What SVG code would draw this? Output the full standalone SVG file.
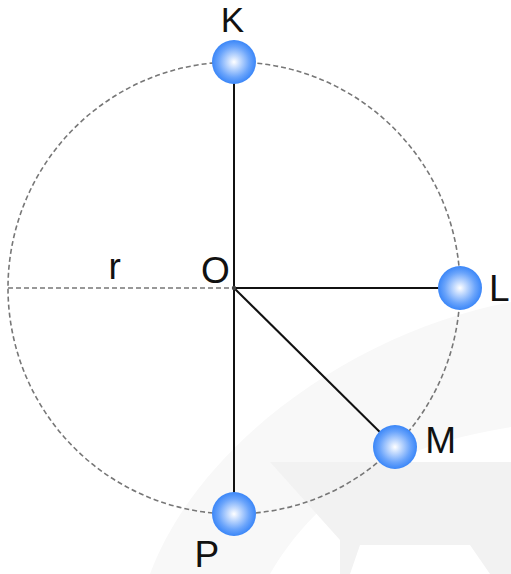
<svg xmlns="http://www.w3.org/2000/svg" width="511" height="574" viewBox="0 0 511 574">
<defs>
<radialGradient id="ball" cx="0.5" cy="0.5" r="0.5">
<stop offset="0" stop-color="#ffffff"/>
<stop offset="0.25" stop-color="#c9defe"/>
<stop offset="0.7" stop-color="#6aa4fb"/>
<stop offset="1" stop-color="#3a86f8"/>
</radialGradient>
<style>
.lbl{font-family:"Liberation Sans",Arial,sans-serif;font-size:37px;fill:#111}
.solid{stroke:#111;stroke-width:2;fill:none}
.dash{stroke:#777;stroke-width:1.6;stroke-dasharray:5 3;fill:none}
.ball{fill:url(#ball)}
</style>
</defs>
<rect width="511" height="574" fill="#ffffff"/>
<g id="watermark">
<path d="M150,574 C200,440 360,330 511,302 L511,427 C430,440 330,470 270,574 Z" fill="#f8f8f8"/>
<path d="M270,462 L511,462 L511,574 L490,574 L470,545 L360,545 L350,574 L340,574 L340,540 Z" fill="#f2f2f2"/>
</g>
<g id="connectors">
<circle cx="234" cy="288" r="226" class="dash"/>
<line x1="8" y1="288" x2="234" y2="288" class="dash"/>
<line x1="234" y1="62" x2="234" y2="514" class="solid"/>
<line x1="234" y1="288" x2="460" y2="288" class="solid"/>
<line x1="234" y1="288" x2="395" y2="447" class="solid"/>
<circle cx="234" cy="288" r="2.2" fill="#444"/>
</g>
<g id="node-K"><circle cx="234" cy="62" r="22" class="ball"/><text x="232.5" y="32" class="lbl" style="font-size:35px" text-anchor="middle">K</text></g>
<g id="node-L"><circle cx="460" cy="288" r="22" class="ball"/><text x="489" y="301" class="lbl">L</text></g>
<g id="node-M"><circle cx="395" cy="447" r="22" class="ball"/><text x="425.3" y="453.3" class="lbl">M</text></g>
<g id="node-P"><circle cx="234" cy="514" r="22" class="ball"/><text x="194.4" y="566.7" class="lbl">P</text></g>
<g id="node-O"><text x="201" y="283" class="lbl">O</text></g>
<g id="label-r"><text x="108.6" y="278.7" class="lbl">r</text></g>
</svg>
